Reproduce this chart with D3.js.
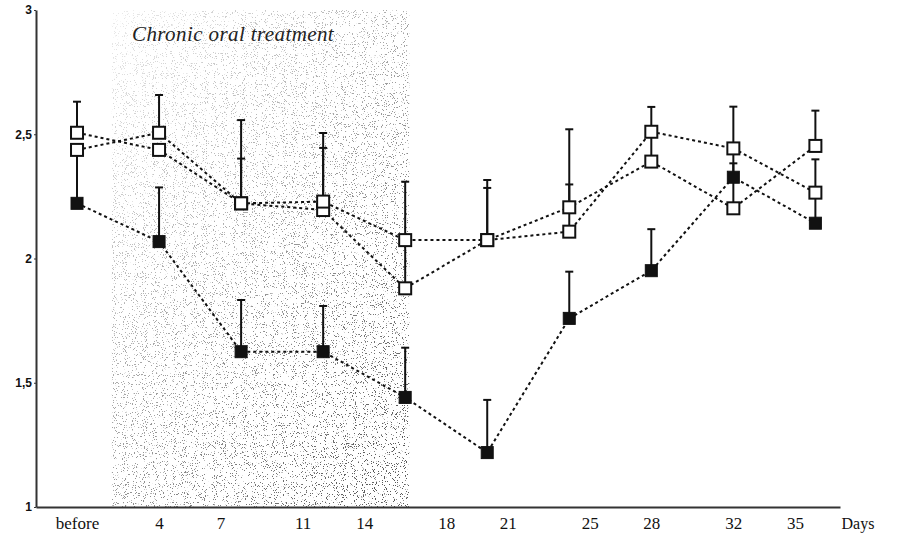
<!DOCTYPE html>
<html>
<head>
<meta charset="utf-8">
<script src="https://cdn.jsdelivr.net/npm/d3@7"></script>
<style>
  body { margin: 0; background: #fff; }
  svg { display: block; }
  .serif { font-family: 'Liberation Serif', 'DejaVu Serif', serif; }
</style>
</head>
<body>
<div id="output"></div>
<script>
var w = 905;
var h = 542;

// measurement days (before = 0) and the day labels printed under the axis
var days = [0, 4, 8, 12, 16, 20, 24, 28, 32, 36];
var tickDays = [0, 4, 7, 11, 14, 18, 21, 25, 28, 32, 35];
var tickLabels = ['before', '4', '7', '11', '14', '18', '21', '25', '28', '32', '35'];
var yTicks = [1, 1.5, 2, 2.5, 3];
var treatment = [1.7, 16.2];

// two open-square groups and one filled-square group, with upward error bars
var seriesA = [2.506, 2.437, 2.222, 2.195, 1.880, 2.074, 2.108, 2.510, 2.443, 2.265];
var errA    = [0.125, 0,     0.180, 0.250, 0.194, 0.242, 0.190, 0.100, 0.168, 0.134];
var seriesB = [2.437, 2.506, 2.222, 2.229, 2.074, 2.074, 2.206, 2.390, 2.202, 2.453];
var errB    = [0,     0.152, 0.335, 0.276, 0.235, 0.210, 0.314, 0.120, 0.181, 0.142];
var seriesC = [2.222, 2.068, 1.625, 1.625, 1.441, 1.219, 1.759, 1.951, 2.327, 2.142];
var errC    = [0.215, 0.218, 0.208, 0.184, 0.200, 0.212, 0.188, 0.167, 0.120, 0.123];

var x = d3.scaleLinear().domain([-2, 37.2]).range([36, 840]);
var y = d3.scaleLinear().domain([1, 3]).range([507, 10]);

var svg = d3.select('#output').append('svg')
  .attr('width', w)
  .attr('height', h);

var defs = svg.append('defs');

// speckled stipple for the treatment period
var f = defs.append('filter').attr('id', 'speckle')
  .attr('x', 0).attr('y', 0).attr('width', 1).attr('height', 1);
f.append('feTurbulence')
  .attr('type', 'fractalNoise')
  .attr('baseFrequency', 0.9)
  .attr('numOctaves', 2)
  .attr('seed', 7)
  .attr('result', 'noise');
f.append('feColorMatrix')
  .attr('in', 'noise')
  .attr('type', 'matrix')
  .attr('values', '0 0 0 0 0.1  0 0 0 0 0.1  0 0 0 0 0.1  24 0 0 0 -15.2');

var grad = defs.append('linearGradient').attr('id', 'stippleFade')
  .attr('x1', 0).attr('y1', 0).attr('x2', 0.8).attr('y2', 1);
grad.append('stop').attr('offset', '0%').attr('stop-color', '#fff').attr('stop-opacity', 0.12);
grad.append('stop').attr('offset', '45%').attr('stop-color', '#fff').attr('stop-opacity', 0.5);
grad.append('stop').attr('offset', '100%').attr('stop-color', '#fff').attr('stop-opacity', 1);

var mask = defs.append('mask').attr('id', 'stippleMask');
mask.append('rect')
  .attr('x', x(treatment[0])).attr('y', y(3))
  .attr('width', x(treatment[1]) - x(treatment[0]))
  .attr('height', y(1) - y(3))
  .attr('fill', 'url(#stippleFade)');

svg.append('rect')
  .attr('x', x(treatment[0])).attr('y', y(3))
  .attr('width', x(treatment[1]) - x(treatment[0]))
  .attr('height', y(1) - y(3))
  .attr('fill', '#000')
  .attr('filter', 'url(#speckle)')
  .attr('mask', 'url(#stippleMask)');

svg.append('text')
  .attr('class', 'serif')
  .attr('x', 132)
  .attr('y', 41)
  .style('font-style', 'italic')
  .style('font-size', '21px')
  .style('letter-spacing', '0.4px')
  .attr('fill', '#222')
  .text('Chronic oral treatment');

// axes
var xAxis = d3.axisBottom(x)
  .tickValues(tickDays)
  .tickFormat(function (d, i) { return tickLabels[i]; })
  .tickSize(0)
  .tickPadding(10);
var gx = svg.append('g')
  .attr('transform', 'translate(0,' + y(1) + ')')
  .call(xAxis);
gx.select('.domain').attr('stroke', '#333').attr('stroke-width', 2);
gx.selectAll('text')
  .attr('class', 'serif')
  .style('font-size', '17px')
  .attr('fill', '#111');

svg.append('text')
  .attr('class', 'serif')
  .attr('x', 858)
  .attr('y', 529)
  .attr('text-anchor', 'middle')
  .style('font-size', '16px')
  .attr('fill', '#111')
  .text('Days');

var yAxis = d3.axisLeft(y)
  .tickValues(yTicks)
  .tickFormat(function (d) { return String(d).replace('.', ','); })
  .tickSize(2)
  .tickSizeOuter(0)
  .tickPadding(2);
var gy = svg.append('g')
  .attr('transform', 'translate(' + x(-2) + ',0)')
  .call(yAxis);
gy.select('.domain').attr('stroke', '#333').attr('stroke-width', 2);
gy.selectAll('.tick line').attr('stroke', '#333');
gy.selectAll('text')
  .style('font-family', "'Liberation Sans', sans-serif")
  .style('font-weight', 'bold')
  .style('font-size', '12px')
  .attr('fill', '#111');

var series = [
  { values: seriesA, err: errA, filled: false },
  { values: seriesB, err: errB, filled: false },
  { values: seriesC, err: errC, filled: true }
];

// error bars
series.forEach(function (s) {
  var pts = days.map(function (d, i) { return { day: d, v: s.values[i], e: s.err[i] }; })
    .filter(function (p) { return p.e > 0; });
  var g = svg.append('g').attr('stroke', '#111').attr('stroke-width', 2);
  g.selectAll('line.bar')
    .data(pts)
    .enter()
    .append('line')
    .attr('x1', function (p) { return x(p.day); })
    .attr('x2', function (p) { return x(p.day); })
    .attr('y1', function (p) { return y(p.v); })
    .attr('y2', function (p) { return y(p.v + p.e); });
  g.selectAll('line.cap')
    .data(pts)
    .enter()
    .append('line')
    .attr('x1', function (p) { return x(p.day) - 4; })
    .attr('x2', function (p) { return x(p.day) + 4; })
    .attr('y1', function (p) { return y(p.v + p.e); })
    .attr('y2', function (p) { return y(p.v + p.e); });
});

// dashed connecting lines
var line = d3.line()
  .x(function (d, i) { return x(days[i]); })
  .y(function (d) { return y(d); });

series.forEach(function (s) {
  svg.append('path')
    .datum(s.values)
    .attr('d', line)
    .attr('fill', 'none')
    .attr('stroke', '#111')
    .attr('stroke-width', 2)
    .attr('stroke-dasharray', '3,3');
});

// square markers
series.forEach(function (s) {
  var size = 12;
  svg.append('g').selectAll('rect')
    .data(s.values)
    .enter()
    .append('rect')
    .attr('x', function (d, i) { return x(days[i]) - size / 2; })
    .attr('y', function (d) { return y(d) - size / 2; })
    .attr('width', size)
    .attr('height', size)
    .attr('fill', s.filled ? '#111' : '#fff')
    .attr('stroke', '#111')
    .attr('stroke-width', s.filled ? 1 : 2);
});
</script>
</body>
</html>
